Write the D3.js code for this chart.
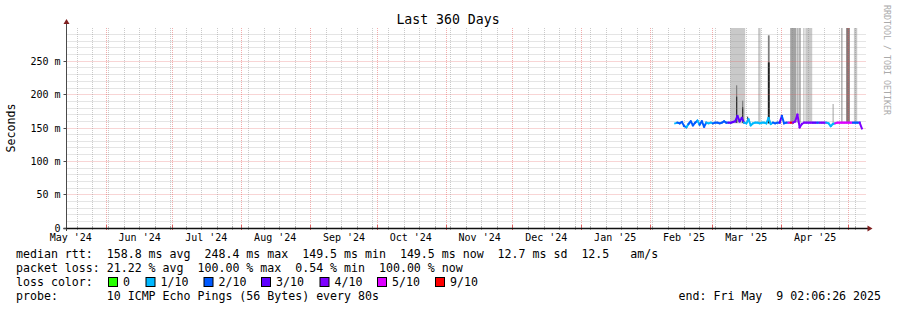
<!DOCTYPE html>
<html>
<head>
<meta charset="utf-8">
<script src="https://cdn.jsdelivr.net/npm/d3@7"></script>
<style>
  body { margin: 0; background: #fff; }
  text { font-family: "DejaVu Sans Mono", monospace; fill: #000; }
</style>
</head>
<body>
<div id="graph"></div>
<script>
// median rtt per day (ms), first value is 2025-02-12
const firstDay = "2025-02-12T00:00";
const medianMs = [
  157, 158, 157, 159, 153, 151, 156, 160, 154, 158,
  161, 155, 160, 152, 158, 157, 158, 157, 158, 158,
  157, 158, 160, 158, 158, 158, 159, 160, 168, 160,
  165, 158, 157, 163, 154, 157, 158, 158, 157, 158,
  158, 157, 165, 156, 158, 157, 158, 158, 168, 157,
  158, 158, 158, 158, 160, 170, 151, 156, 158, 158,
  158, 158, 158, 158, 158, 158, 158, 158, 158, 157,
  153, 156, 157, 158, 158, 158, 158, 158, 158, 158,
  158, 158, 158, 158, 149.5
];
// lost pings out of 10, same days
const lossCount = [
  1, 1, 2, 2, 2, 2, 1, 2, 2, 2,
  2, 1, 2, 2, 2, 1, 1, 1, 2, 2,
  2, 2, 2, 2, 2, 3, 3, 3, 3, 3,
  3, 3, 1, 1, 1, 1, 1, 1, 1, 1,
  1, 1, 1, 1, 1, 2, 2, 2, 3, 2,
  2, 2, 5, 9, 4, 4, 4, 4, 4, 4,
  4, 4, 4, 3, 3, 2, 4, 4, 4, 1,
  1, 1, 1, 5, 5, 5, 5, 5, 5, 5,
  5, 2, 2, 2, 4
];

// smoke (spread of ping times)
const smokeFrom = [
  "2025-03-08T18:00", "2025-03-11T09:00", "2025-03-11T09:00", "2025-03-14T02:00",
  "2025-03-14T02:00", "2025-03-16T08:00", "2025-03-21T08:00", "2025-03-25T17:00",
  "2025-03-25T17:00", "2025-04-04T18:00", "2025-04-07T22:00", "2025-04-08T19:00",
  "2025-04-10T14:00", "2025-04-11T14:00", "2025-04-23T20:00", "2025-04-27T17:00",
  "2025-04-29T23:00", "2025-05-03T10:00"
];
const smokeTo = [
  "2025-03-15T12:00", "2025-03-11T22:00", "2025-03-11T22:00", "2025-03-14T15:00",
  "2025-03-14T15:00", "2025-03-16T20:00", "2025-03-22T10:00", "2025-03-26T12:00",
  "2025-03-26T12:00", "2025-04-07T14:00", "2025-04-08T12:00", "2025-04-09T12:00",
  "2025-04-11T05:00", "2025-04-14T16:00", "2025-04-24T06:00", "2025-04-28T07:00",
  "2025-05-01T14:00", "2025-05-04T22:00"
];
const smokeLowMs = [157, 158, 158, 158, 158, 158, 157, 157, 157, 158, 158, 158, 158, 158, 157, 158, 158, 158];
const smokeHighMs = [320, 214, 197, 191, 181, 167, 320, 289, 248.4, 320, 320, 320, 320, 320, 186, 320, 320, 320];
const smokePings = [1, 5, 9, 5, 9, 8, 1, 5, 10, 3, 3, 3, 1, 1, 3, 3, 5, 1];
const smokeLoss = [0, 0, 0, 0, 0, 0, 0, 0, 0, 0, 0, 0, 0, 0, 0, 0, 9, 0];

const lossSteps = [0, 1, 2, 3, 4, 5, 9];
const lossLabels = ["0", "1/10", "2/10", "3/10", "4/10", "5/10", "9/10"];
const lossColors = ["#26ff00", "#00b8ff", "#0059ff", "#5e00ff", "#7e00ff", "#dd00ff", "#ff0000"];

const yTicksMs = [0, 50, 100, 150, 200, 250];
const rangeStart = "2024-05-14T02:06:26";
const rangeEnd = "2025-05-09T02:06:26";

const statsRtt = "median rtt:  158.8 ms avg  248.4 ms max  149.5 ms min  149.5 ms now  12.7 ms sd  12.5   am/s";
const statsLoss = "packet loss: 21.22 % avg  100.00 % max  0.54 % min  100.00 % now";
const probeText = "probe:       10 ICMP Echo Pings (56 Bytes) every 80s";
const endText = "end: Fri May  9 02:06:26 2025";

const W = 897, H = 310;
const plot = { left: 66.5, right: 866.5, top: 28, bottom: 228 };

const parse = d3.timeParse("%Y-%m-%dT%H:%M");
const parseS = d3.timeParse("%Y-%m-%dT%H:%M:%S");

const x = d3.scaleTime()
  .domain([parseS(rangeStart), parseS(rangeEnd)])
  .range([plot.left, plot.right]);
const y = d3.scaleLinear().domain([0, 300]).range([plot.bottom, plot.top]);
const lossColor = d3.scaleThreshold().domain(lossSteps.slice(1)).range(lossColors);
const smokeGray = d3.scaleLinear().domain([1, 10]).range(["#c9c9c9", "#1e1e1e"]);

const svg = d3.select("#graph").append("svg")
  .attr("width", W).attr("height", H);
svg.append("rect").attr("width", W).attr("height", H).attr("fill", "#fff");

// smoke
const clipTop = y.domain()[1];
smokeFrom.forEach((s, i) => {
  let fill = smokeGray(smokePings[i]);
  if (smokeLoss[i] >= 9) fill = d3.interpolateRgb(fill, "#ff0000")(0.07);
  const x0 = x(parse(s)), x1 = x(parse(smokeTo[i]));
  svg.append("rect")
    .attr("x", x0)
    .attr("y", y(Math.min(smokeHighMs[i], clipTop)))
    .attr("width", Math.max(1, x1 - x0))
    .attr("height", y(smokeLowMs[i]) - y(Math.min(smokeHighMs[i], clipTop)))
    .attr("fill", fill);
});

// grid
const crisp = v => Math.round(v - 0.5) + 0.5;
const minorColor = "rgba(140,140,140,0.45)";
const majorColor = "rgba(230,90,90,0.5)";

d3.range(10, 300, 10).forEach(v => {
  svg.append("line")
    .attr("x1", plot.left).attr("x2", plot.right)
    .attr("y1", crisp(y(v))).attr("y2", crisp(y(v)))
    .attr("stroke", v % 50 === 0 ? majorColor : minorColor)
    .attr("stroke-dasharray", "1,1");
});

const weeks = d3.timeSunday.range(x.domain()[0], x.domain()[1]);
const months = d3.timeMonth.range(x.domain()[0], x.domain()[1]);
const monthKeys = new Set(months.map(d => +d));
weeks.filter(d => !monthKeys.has(+d)).forEach(d => {
  svg.append("line")
    .attr("x1", crisp(x(d))).attr("x2", crisp(x(d)))
    .attr("y1", plot.top).attr("y2", plot.bottom)
    .attr("stroke", minorColor).attr("stroke-dasharray", "1,1");
  svg.append("line")
    .attr("x1", crisp(x(d))).attr("x2", crisp(x(d)))
    .attr("y1", plot.bottom - 2).attr("y2", plot.bottom + 2)
    .attr("stroke", "#aaa");
});
months.forEach(d => {
  svg.append("line")
    .attr("x1", crisp(x(d))).attr("x2", crisp(x(d)))
    .attr("y1", plot.top).attr("y2", plot.bottom)
    .attr("stroke", majorColor).attr("stroke-dasharray", "1,1");
  svg.append("line")
    .attr("x1", crisp(x(d))).attr("x2", crisp(x(d)))
    .attr("y1", plot.bottom - 3).attr("y2", plot.bottom + 2)
    .attr("stroke", "#e06060");
});

// median line, coloured by loss
const start = parse(firstDay);
const pts = medianMs.map((v, i) => [x(d3.timeDay.offset(start, i)), y(v)]);
for (let i = 1; i < pts.length; i++) {
  svg.append("line")
    .attr("x1", pts[i - 1][0]).attr("y1", pts[i - 1][1])
    .attr("x2", pts[i][0]).attr("y2", pts[i][1])
    .attr("stroke", lossColor(lossCount[i]))
    .attr("stroke-width", 2)
    .attr("stroke-linecap", "square");
}

// axes
svg.append("line")
  .attr("x1", plot.left).attr("x2", plot.left)
  .attr("y1", plot.bottom + 3).attr("y2", plot.top - 5)
  .attr("stroke", "#4a4a4a");
svg.append("line")
  .attr("x1", plot.left - 3).attr("x2", plot.right + 2)
  .attr("y1", plot.bottom + 0.5).attr("y2", plot.bottom + 0.5)
  .attr("stroke", "#111").attr("stroke-width", 1.5);
svg.append("path")
  .attr("d", `M${plot.left - 3},${plot.top - 4} L${plot.left + 3},${plot.top - 4} L${plot.left},${plot.top - 9} Z`)
  .attr("fill", "#7f1f1f");
svg.append("path")
  .attr("d", `M${plot.right + 1},${plot.bottom - 2.5} L${plot.right + 1},${plot.bottom + 3.5} L${plot.right + 6},${plot.bottom + 0.5} Z`)
  .attr("fill", "#7f1f1f");

yTicksMs.forEach(v => {
  svg.append("line")
    .attr("x1", plot.left - 3).attr("x2", plot.left)
    .attr("y1", crisp(y(v))).attr("y2", crisp(y(v)))
    .attr("stroke", "#4a4a4a");
  svg.append("text")
    .attr("x", plot.left - 6).attr("y", y(v) + 3.5)
    .attr("text-anchor", "end")
    .attr("font-size", 10)
    .style("white-space", "pre")
    .text(v === 0 ? "0" : `${v} m`);
});

const monthFmt = d3.timeFormat("%b '%y");
months.concat([d3.timeMonth.floor(x.domain()[0])]).forEach(m => {
  const c = d3.timeDay.offset(m, 15);
  if (c < x.domain()[0] || c > x.domain()[1]) return;
  svg.append("text")
    .attr("x", x(c)).attr("y", 241)
    .attr("text-anchor", "middle")
    .attr("font-size", 10)
    .text(monthFmt(m));
});

// title and labels
svg.append("text")
  .attr("x", 448).attr("y", 24)
  .attr("text-anchor", "middle")
  .attr("font-size", 13.2)
  .text("Last 360 Days");

svg.append("text")
  .attr("transform", `translate(15,${(plot.top + plot.bottom) / 2}) rotate(-90)`)
  .attr("text-anchor", "middle")
  .attr("font-size", 11.6)
  .text("Seconds");

svg.append("text")
  .attr("transform", "translate(884,5) rotate(90)")
  .attr("font-size", 8.3)
  .style("fill", "#aaa")
  .text("RRDTOOL / TOBI OETIKER");

// legend
const legendFont = 11.6;
const rows = [258, 272, 286, 300];
[statsRtt, statsLoss, "loss color:", probeText].forEach((t, i) => {
  svg.append("text")
    .attr("x", 16).attr("y", rows[i])
    .attr("font-size", legendFont)
    .style("white-space", "pre")
    .text(t);
});
const boxX = [108, 145.5, 203.5, 261, 319.5, 377, 435];
lossLabels.forEach((lab, i) => {
  svg.append("rect")
    .attr("x", boxX[i] + 0.5).attr("y", 277.5)
    .attr("width", 9).attr("height", 9)
    .attr("fill", lossColors[i])
    .attr("stroke", "#000");
  svg.append("text")
    .attr("x", boxX[i] + 15).attr("y", rows[2])
    .attr("font-size", legendFont)
    .text(lab);
});
svg.append("text")
  .attr("x", 881).attr("y", rows[3])
  .attr("text-anchor", "end")
  .attr("font-size", legendFont)
  .style("white-space", "pre")
  .text(endText);
</script>
</body>
</html>
